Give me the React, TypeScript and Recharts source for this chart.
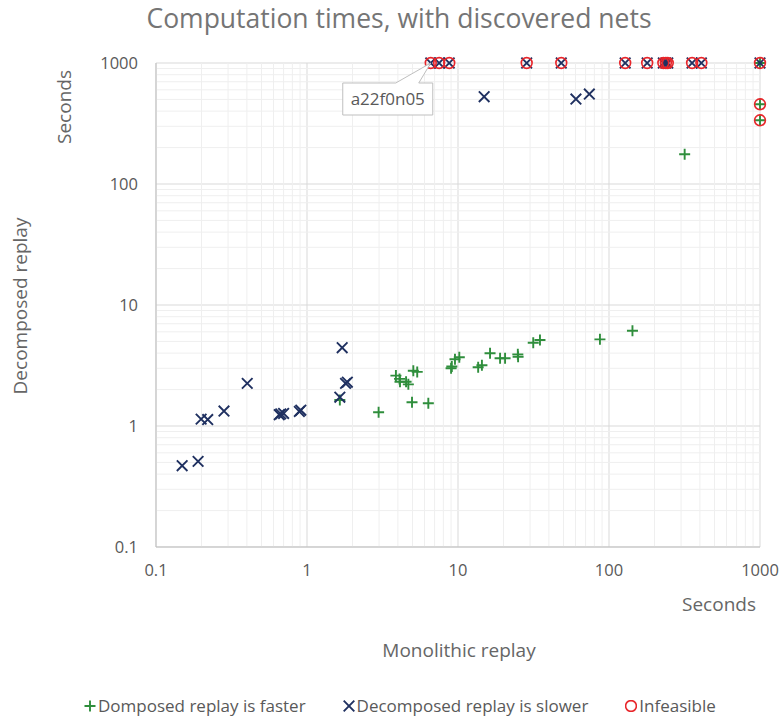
import React from 'react';
import {
  ScatterChart,
  Scatter,
  XAxis,
  YAxis,
  CartesianGrid,
  ReferenceLine,
  ReferenceDot,
  Label,
} from 'recharts';

if (typeof document !== 'undefined') document.body.style.margin = '0';

const FONT = '"Open Sans", "Noto Sans", sans-serif';
const GREEN = '#2f8e3c';
const NAVY = '#1f3060';
const RED = '#e8262b';

// Domposed replay is faster (+)
const fasterMono = [
  1.65, 2.98, 3.88, 4.1, 4.13, 4.53, 4.69, 5.06, 5.37, 4.96, 6.36, 9.0, 9.1, 9.55, 10.2, 13.6, 14.4,
  16.3, 19.0, 20.5, 24.9, 25.0, 31.5, 34.9, 87.1, 143, 317, 1000, 1000, 1000,
];
const fasterDecomp = [
  1.64, 1.3, 2.61, 2.45, 2.32, 2.32, 2.21, 2.86, 2.8, 1.57, 1.54, 3.0, 3.1, 3.56, 3.7, 3.06, 3.18,
  3.99, 3.63, 3.63, 3.91, 3.74, 4.88, 5.14, 5.2, 6.13, 176, 456, 336, 1000,
];

// Decomposed replay is slower (x)
const slowerMono = [
  0.149, 0.19, 0.199, 0.22, 0.282, 0.402, 0.655, 0.67, 0.7, 0.89, 0.91, 1.65, 1.71, 1.8, 1.85,
  14.9, 60.4, 74.1, 6.6, 7.5, 8.75, 28.5, 48.3, 128, 179, 229, 238, 245, 355, 409, 1000,
];
const slowerDecomp = [
  0.47, 0.51, 1.14, 1.13, 1.33, 2.25, 1.24, 1.26, 1.27, 1.32, 1.35, 1.73, 4.44, 2.25, 2.3,
  527, 504, 554, 1000, 1000, 1000, 1000, 1000, 1000, 1000, 1000, 1000, 1000, 1000, 1000, 1000,
];

// Infeasible (o)
const infeasibleMono = [6.6, 7.5, 8.75, 28.5, 48.3, 128, 179, 229, 238, 245, 355, 409, 1000, 1000, 1000];
const infeasibleDecomp = [1000, 1000, 1000, 1000, 1000, 1000, 1000, 1000, 1000, 1000, 1000, 1000, 1000, 456, 336];

const majorTicks = [0.1, 1, 10, 100, 1000];
const minorTicks = [0.1, 1, 10, 100].flatMap((d) => [2, 3, 4, 5, 6, 7, 8, 9].map((m) => +(d * m).toPrecision(2)));

const zip = (xs: number[], ys: number[]) => xs.map((x, i) => ({ x, y: ys[i] }));
const faster = zip(fasterMono, fasterDecomp);
const slower = zip(slowerMono, slowerDecomp);
const infeasible = zip(infeasibleMono, infeasibleDecomp);

const Plus = ({ cx, cy }: any) => (
  <path d={`M${cx - 5.5},${cy}H${cx + 5.5}M${cx},${cy - 5.5}V${cy + 5.5}`} stroke={GREEN} strokeWidth={1.9} fill="none" />
);
const Cross = ({ cx, cy }: any) => (
  <path
    d={`M${cx - 5.3},${cy - 5.3}L${cx + 5.3},${cy + 5.3}M${cx - 5.3},${cy + 5.3}L${cx + 5.3},${cy - 5.3}`}
    stroke={NAVY}
    strokeWidth={1.9}
    fill="none"
  />
);
const Ring = ({ cx, cy }: any) => <circle cx={cx} cy={cy} r={5.4} stroke={RED} strokeWidth={1.6} fill="none" />;

// callout box pointing to the a22f0n05 point
const Callout = ({ cx, cy }: any) => {
  const l = cx - 88, r = cx + 2, t = cy + 20, b = cy + 52;
  return (
    <g>
      <path
        d={`M${l},${t}L${cx - 35},${t}L${cx},${cy}L${cx - 12},${t}L${r},${t}L${r},${b}L${l},${b}Z`}
        fill="#fff"
        stroke="#bfbfbf"
        strokeWidth={1}
      />
      <text x={(l + r) / 2} y={t + 22} textAnchor="middle" fontSize={17} fill="#595959" fontFamily={FONT}>
        a22f0n05
      </text>
    </g>
  );
};

const LegendIcon = ({ kind }: { kind: string }) => (
  <svg width={12} height={12} style={{ marginRight: 2 }}>
    {kind === 'plus' && <Plus cx={6} cy={6} />}
    {kind === 'cross' && <Cross cx={6} cy={6} />}
    {kind === 'ring' && <Ring cx={6} cy={6} />}
  </svg>
);

const legendItems = [
  { kind: 'plus', label: 'Domposed replay is faster' },
  { kind: 'cross', label: 'Decomposed replay is slower' },
  { kind: 'ring', label: 'Infeasible' },
];

const tickStyle = { fill: '#595959', fontSize: 16.5, fontFamily: FONT };

export default function App() {
  return (
    <div style={{ position: 'relative', width: 780, height: 720, background: '#fff', fontFamily: FONT }}>
      <div
        style={{
          position: 'absolute',
          top: 0,
          left: 0,
          width: 798,
          textAlign: 'center',
          fontSize: 26.5,
          color: '#757575',
        }}
      >
        Computation times, with discovered nets
      </div>
      <ScatterChart width={780} height={720} margin={{ top: 63, right: 20, bottom: 0, left: 0 }}>
        {minorTicks.map((v) => (
          <ReferenceLine key={'vx' + v} x={v} stroke="#efefef" strokeWidth={1} />
        ))}
        {minorTicks.map((v) => (
          <ReferenceLine key={'hy' + v} y={v} stroke="#efefef" strokeWidth={1} />
        ))}
        <CartesianGrid stroke="#d9d9d9" />
        <XAxis
          type="number"
          dataKey="x"
          scale="log"
          domain={[0.1, 1000]}
          ticks={majorTicks}
          height={173}
          axisLine={{ stroke: '#bfbfbf' }}
          tickLine={false}
          tickSize={0}
          tickMargin={17}
          tick={tickStyle}
          interval={0}
        >
          <Label
            content={({ viewBox }: any) => (
              <g fontFamily={FONT} fill="#666666" fontSize={19}>
                <text x={viewBox.x + viewBox.width - 41} y={viewBox.y + 64} textAnchor="middle">
                  Seconds
                </text>
                <text x={viewBox.x + viewBox.width / 2 + 1} y={viewBox.y + 110} textAnchor="middle">
                  Monolithic replay
                </text>
              </g>
            )}
          />
        </XAxis>
        <YAxis
          type="number"
          dataKey="y"
          scale="log"
          domain={[0.1, 1000]}
          ticks={majorTicks}
          width={156}
          axisLine={{ stroke: '#bfbfbf' }}
          tickLine={false}
          tickSize={0}
          tickMargin={18}
          tick={tickStyle}
          interval={0}
        >
          <Label
            content={() => (
              <g fontFamily={FONT} fill="#666666" fontSize={19}>
                <text x={0} y={0} transform="translate(71,107) rotate(-90)" textAnchor="middle">
                  Seconds
                </text>
                <text x={0} y={0} transform="translate(27,306) rotate(-90)" textAnchor="middle">
                  Decomposed replay
                </text>
              </g>
            )}
          />
        </YAxis>
        <Scatter name="Domposed replay is faster" data={faster} shape={(p: any) => <Plus cx={p.cx} cy={p.cy} />} isAnimationActive={false} />
        <Scatter name="Decomposed replay is slower" data={slower} shape={(p: any) => <Cross cx={p.cx} cy={p.cy} />} isAnimationActive={false} />
        <Scatter name="Infeasible" data={infeasible} shape={(p: any) => <Ring cx={p.cx} cy={p.cy} />} isAnimationActive={false} />
        <ReferenceDot x={6.6} y={1000} r={0} shape={(p: any) => <Callout cx={p.cx} cy={p.cy} />} />
      </ScatterChart>
      <div
        style={{
          position: 'absolute',
          top: 694,
          left: 84,
          display: 'flex',
          alignItems: 'center',
          gap: 37,
          fontSize: 17,
          color: '#595959',
          whiteSpace: 'nowrap',
        }}
      >
        {legendItems.map((it) => (
          <div key={it.kind} style={{ display: 'flex', alignItems: 'center' }}>
            <LegendIcon kind={it.kind} />
            <span>{it.label}</span>
          </div>
        ))}
      </div>
    </div>
  );
}
